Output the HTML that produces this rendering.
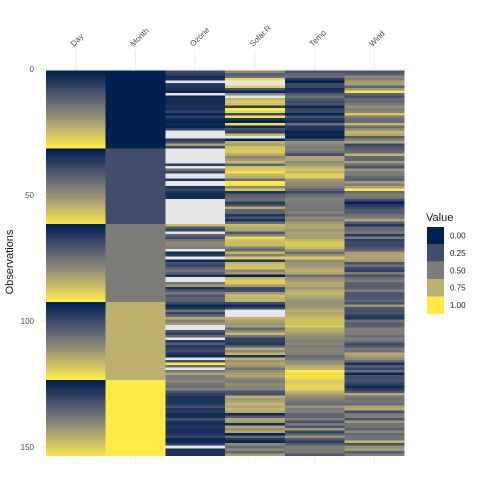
<!DOCTYPE html>
<html><head><meta charset="utf-8"><style>
body{margin:0;background:#fff;}
svg{display:block;font-family:"Liberation Sans","DejaVu Sans",sans-serif;}
</style></head><body>
<svg id="chart" width="480" height="480" viewBox="0 0 480 480">
<g id="grid"></g><g id="tiles"></g><g id="axes"></g><g id="legend"></g>
</svg>
<script>
const columns=["Day","Month","Ozone","Solar.R","Temp","Wind"];
const ozone=[41,36,12,18,null,28,23,19,8,null,7,16,11,14,18,14,34,6,30,11,1,11,4,32,null,null,null,23,45,115,37,null,null,null,null,null,null,29,null,71,39,null,null,23,null,null,21,37,20,12,13,null,null,null,null,null,null,null,null,null,null,135,49,32,null,64,40,77,97,97,85,null,10,27,null,7,48,35,61,79,63,16,null,null,80,108,20,52,82,50,64,59,39,9,16,78,35,66,122,89,110,null,null,44,28,65,null,22,59,23,31,44,21,9,null,45,168,73,null,76,118,84,85,96,78,73,91,47,32,20,23,21,24,44,21,28,9,13,46,18,13,24,16,13,23,36,7,14,30,null,14,18,20];
const solar=[190,118,149,313,null,null,299,99,19,194,null,256,290,274,65,334,307,78,322,44,8,320,25,92,66,266,null,13,252,223,279,286,287,242,186,220,264,127,273,291,323,259,250,148,332,322,191,284,37,120,137,150,59,91,250,135,127,47,98,31,138,269,248,236,101,175,314,276,267,272,175,139,264,175,291,48,260,274,285,187,220,7,258,295,294,223,81,82,213,275,253,254,83,24,77,null,null,null,255,229,207,222,137,192,273,157,64,71,51,115,244,190,259,36,255,212,238,215,153,203,225,237,188,167,197,183,189,95,92,252,220,230,259,236,259,238,24,112,237,224,27,238,201,238,14,139,49,20,193,145,191,131,223];
const wind=[7.4,8,12.6,11.5,14.3,14.9,8.6,13.8,20.1,8.6,6.9,9.7,9.2,10.9,13.2,11.5,12,18.4,11.5,9.7,9.7,16.6,9.7,12,16.6,14.9,8,12,14.9,5.7,7.4,8.6,9.7,16.1,9.2,8.6,14.3,9.7,6.9,13.8,11.5,10.9,9.2,8,13.8,11.5,14.9,20.7,9.2,11.5,10.3,6.3,1.7,4.6,6.3,8,8,10.3,11.5,14.9,8,4.1,9.2,9.2,10.9,4.6,10.9,5.1,6.3,5.7,7.4,8.6,14.3,14.9,14.9,14.3,6.9,10.3,6.3,5.1,11.5,6.9,9.7,11.5,8.6,8,8.6,12,7.4,7.4,7.4,9.2,6.9,13.8,7.4,6.9,7.4,4.6,4,10.3,8,8.6,11.5,11.5,11.5,9.7,11.5,10.3,6.3,7.4,10.9,10.3,15.5,14.3,12.6,9.7,3.4,8,5.7,9.7,2.3,6.3,6.3,6.9,5.1,2.8,4.6,7.4,15.5,10.9,10.3,10.9,9.7,14.9,15.5,6.3,10.9,11.5,6.9,13.8,10.3,10.3,8,12.6,9.2,10.3,10.3,16.6,6.9,13.2,14.3,8,11.5];
const temp=[67,72,74,62,56,66,65,59,61,69,74,69,66,68,58,64,66,57,68,62,59,73,61,61,57,58,57,67,81,79,76,78,74,67,84,85,79,82,87,90,87,93,92,82,80,79,77,72,65,73,76,77,76,76,76,75,78,73,80,77,83,84,85,81,84,83,83,88,92,92,89,82,73,81,91,80,81,82,84,87,85,74,81,82,86,85,82,86,88,86,83,81,81,81,82,86,85,87,89,90,90,92,86,86,82,80,79,77,79,76,78,78,77,72,75,79,81,86,88,97,94,96,94,91,92,93,93,87,84,80,78,75,73,81,76,77,71,71,78,67,76,68,82,64,71,81,69,63,70,77,75,76,68];
const monthDays=[31,30,31,31,30];
const months=[5,6,7,8,9];
const yTicks=[0,50,100,150];
const legendValues=[0,0.25,0.5,0.75,1];
const legendLabels=["0.00","0.25","0.50","0.75","1.00"];

const NS="http://www.w3.org/2000/svg";
function mk(tag,attrs,parent){const e=document.createElementNS(NS,tag);for(const k in attrs)e.setAttribute(k,attrs[k]);parent.appendChild(e);return e;}
const day=[],month=[];
monthDays.forEach((n,mi)=>{for(let d=1;d<=n;d++){day.push(d);month.push(months[mi]);}});
const data={"Day":day,"Month":month,"Ozone":ozone,"Solar.R":solar,"Temp":temp,"Wind":wind};
const x0=46,colW=59.7,yTop=69,rowH=2.52;
function xScale(ci){return x0+ci*colW;}
function yScale(obs){return yTop+obs*rowH;}
const stops=[[0,32,77],[65,77,107],[124,123,120],[188,175,111],[255,234,70]];
function color(v){const t=Math.max(0,Math.min(1,v))*4;const i=Math.min(3,Math.floor(t));const f=t-i;const a=stops[i],b=stops[i+1];return `rgb(${Math.round(a[0]+(b[0]-a[0])*f)},${Math.round(a[1]+(b[1]-a[1])*f)},${Math.round(a[2]+(b[2]-a[2])*f)})`;}

const grid=document.getElementById('grid'),tiles=document.getElementById('tiles'),axes=document.getElementById('axes'),legend=document.getElementById('legend');
yTicks.forEach(t=>{const l=mk('line',{x1:40,x2:410,y1:yScale(t),y2:yScale(t),stroke:'#ebebeb','stroke-width':1},grid);
});
columns.forEach((c,ci)=>{const cx=xScale(ci)+colW/2;const l=mk('line',{x1:cx,x2:cx,y1:50,y2:462,stroke:'#ebebeb','stroke-width':1},grid);
});

columns.forEach((c,ci)=>{
  const vals=data[c];const nn=vals.filter(v=>v!==null);const mn=Math.min(...nn),mx=Math.max(...nn);
  vals.forEach((v,i)=>{
    const fill=v===null?'#e6e6e6':color((v-mn)/(mx-mn));
    const r=mk('rect',{x:xScale(ci),y:yScale(i+0.5),width:colW+0.3,height:rowH+0.4,fill:fill,'shape-rendering':'crispEdges'},tiles);
    
    
  });
  const cx=xScale(ci)+colW/2;
  const t=mk('text',{x:0,y:0,'font-size':8,fill:'#4d4d4d','text-anchor':'start',transform:`translate(${cx-2},${47}) rotate(-45)`},axes);
  t.textContent=c;
});
yTicks.forEach(t=>{const e=mk('text',{x:34,y:yScale(t)+3,'font-size':8,fill:'#4d4d4d','text-anchor':'end'},axes);e.textContent=t;
});
const yt=mk('text',{x:0,y:0,'font-size':11,fill:'#1a1a1a','text-anchor':'middle',transform:'translate(13,262) rotate(-90)'},axes);
yt.textContent='Observations';

const lt=mk('text',{x:426,y:221,'font-size':11,fill:'#1a1a1a'},legend);lt.textContent='Value';

legendValues.forEach((v,i)=>{const y=227+i*17.4;
  const r=mk('rect',{x:427,y:y,width:17,height:17.4,fill:color(v)},legend);
  
  const t=mk('text',{x:450,y:y+11.5,'font-size':8,fill:'#1a1a1a'},legend);t.textContent=legendLabels[i];
  });
</script>
</body></html>
